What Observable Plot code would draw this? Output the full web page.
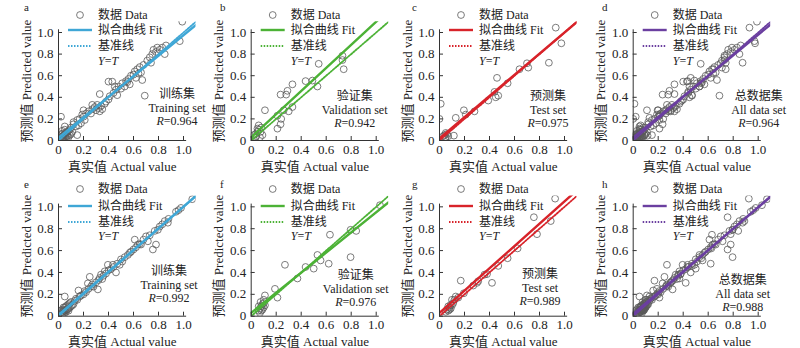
<!DOCTYPE html>
<html><head><meta charset="utf-8">
<script src="https://cdn.jsdelivr.net/npm/d3@7"></script>
<script src="https://cdn.jsdelivr.net/npm/@observablehq/plot@0.6"></script>
<style>
body{margin:0;background:#fff;}
#chart{position:relative;width:800px;height:348px;overflow:hidden;background:#fff;}
#chart svg{position:absolute;overflow:visible !important;background:transparent !important;}
</style></head><body><div id="chart"></div>
<script>
// ---------- DATA (actual, predicted) ----------
const trainA = [[0.02,0.01],[0.03,0.02],[0.04,0.01],[0.05,0.03],[0.03,0.04],[0.06,0.02],[0.04,0.05],[0.07,0.04],[0.02,0.03],[0.05,0.06],[0.08,0.03],[0.06,0.07],[0.03,0.06],[0.09,0.05],[0.07,0.08],[0.04,0.03],[0.1,0.06],[0.08,0.09],[0.05,0.1],[0.03,0.09],[0.11,0.08],[0.06,0.04],[0.09,0.1],[0.02,0.06],[0.1,0.12],
  [0.02,0.22],[0.15,0.05],[0.05,0.13],[0.12,0.15],[0.12,0.17],[0.14,0.13],[0.15,0.19],[0.17,0.2],[0.18,0.16],[0.2,0.22],[0.21,0.19],[0.22,0.25],[0.24,0.27],[0.19,0.24],[0.16,0.14],[0.2,0.28],[0.26,0.25],[0.27,0.29],[0.27,0.33],[0.29,0.31],[0.3,0.28],[0.31,0.33],[0.32,0.3],[0.33,0.27],[0.34,0.32],[0.35,0.29],[0.33,0.43],[0.37,0.34],[0.38,0.36],[0.4,0.38],[0.41,0.41],[0.4,0.545],[0.43,0.545],[0.44,0.44],[0.45,0.5],[0.46,0.47],[0.47,0.42],[0.48,0.5],[0.5,0.48],[0.51,0.53],[0.53,0.5],[0.54,0.55],[0.55,0.54],[0.56,0.57],[0.57,0.52],[0.58,0.6],[0.6,0.61],[0.61,0.64],[0.62,0.58],[0.63,0.66],[0.64,0.62],[0.65,0.68],[0.66,0.63],[0.67,0.56],[0.68,0.7],[0.69,0.415],[0.71,0.74],[0.73,0.77],[0.74,0.72],[0.75,0.8],[0.76,0.84],[0.78,0.82],[0.79,0.86],[0.81,0.84],[0.83,0.86],[0.85,0.8],[0.86,0.88],[0.97,0.92],[0.99,1.1]];
const validB = [[0.035,0.06],[0.05,0.11],[0.06,0.14],[0.075,0.08],[0.035,0.03],[0.02,0.05],[0.09,0.05],[0.05,0.08],[0.07,0.03],[0.04,0.04],[0.06,0.1],[0.08,0.12],[0.11,0.28],[0.21,0.11],[0.21,0.23],[0.235,0.15],[0.24,0.2],[0.235,0.425],[0.26,0.28],[0.28,0.425],[0.29,0.46],[0.30,0.27],[0.33,0.31],[0.33,0.52],[0.435,0.55],[0.49,0.555],[0.53,0.5],[0.54,0.71],[0.73,0.785],[0.73,0.745],[0.74,0.66]];
const testC = [[0.0,0.2],[0.01,0.34],[0.04,0.05],[0.05,0.03],[0.06,0.06],[0.045,0.02],[0.07,0.04],[0.05,0.07],[0.03,0.04],[0.115,0.045],[0.13,0.21],[0.195,0.28],[0.21,0.24],[0.28,0.27],[0.39,0.37],[0.44,0.45],[0.45,0.4],[0.46,0.58],[0.47,0.415],[0.545,0.53],[0.64,0.66],[0.70,0.715],[0.71,0.675],[0.875,0.72],[0.93,1.045],[0.975,0.9]];
const trainE = [[0.02,0.02],[0.03,0.04],[0.04,0.03],[0.05,0.05],[0.06,0.04],[0.03,0.06],[0.07,0.06],[0.05,0.08],[0.08,0.07],[0.04,0.05],[0.06,0.09],[0.09,0.08],[0.07,0.1],[0.1,0.09],[0.08,0.11],[0.02,0.05],[0.11,0.1],[0.05,0.03],[0.09,0.12],[0.12,0.11],[0.06,0.06],[0.04,0.08],[0.1,0.13],[0.03,0.02],[0.08,0.05],
  [0.05,0.18],[0.13,0.14],[0.14,0.16],[0.15,0.15],[0.16,0.235],[0.17,0.18],[0.18,0.19],[0.2,0.2],[0.21,0.23],[0.22,0.22],[0.235,0.3],[0.25,0.36],[0.24,0.25],[0.26,0.27],[0.27,0.29],[0.28,0.27],[0.3,0.31],[0.315,0.245],[0.32,0.33],[0.33,0.35],[0.34,0.38],[0.35,0.34],[0.36,0.37],[0.37,0.41],[0.38,0.39],[0.395,0.47],[0.4,0.42],[0.42,0.43],[0.435,0.47],[0.44,0.45],[0.46,0.4],[0.47,0.48],[0.49,0.47],[0.5,0.52],[0.51,0.5],[0.53,0.54],[0.555,0.56],[0.57,0.58],[0.58,0.59],[0.6,0.61],[0.61,0.7],[0.62,0.63],[0.635,0.655],[0.65,0.66],[0.66,0.655],[0.68,0.7],[0.7,0.73],[0.715,0.685],[0.73,0.74],[0.755,0.61],[0.77,0.78],[0.78,0.655],[0.795,0.79],[0.81,0.82],[0.83,0.84],[0.85,0.87],[0.875,0.855],[0.88,0.89],[0.94,0.955],[0.96,0.97],[0.98,0.99],[1.07,1.07]];
const validF = [[0.06,0.05],[0.07,0.07],[0.08,0.09],[0.09,0.11],[0.1,0.12],[0.08,0.05],[0.1,0.08],[0.075,0.13],[0.09,0.06],[0.11,0.1],[0.07,0.03],[0.06,0.09],[0.1,0.15],[0.11,0.19],[0.19,0.25],[0.21,0.17],[0.27,0.47],[0.37,0.345],[0.435,0.45],[0.50,0.435],[0.53,0.56],[0.555,0.51],[0.62,0.48],[0.63,0.745],[0.795,0.54],[0.795,0.79],[0.84,0.78],[1.03,1.015]];
const testG = [[0.05,0.04],[0.06,0.06],[0.07,0.05],[0.08,0.08],[0.09,0.07],[0.07,0.09],[0.1,0.1],[0.11,0.12],[0.12,0.15],[0.09,0.105],[0.1,0.15],[0.13,0.18],[0.15,0.17],[0.08,0.06],[0.17,0.325],[0.195,0.21],[0.27,0.28],[0.30,0.305],[0.31,0.32],[0.36,0.38],[0.38,0.385],[0.42,0.305],[0.47,0.46],[0.545,0.53],[0.625,0.62],[0.755,0.905],[0.78,0.75],[0.89,0.87],[0.925,1.075]];
const allD = trainA.concat(validB, testC);
const allH = trainE.concat(validF, testG);

const panelLetters = ["a","b","c","d","e","f","g","h"];
const setNamesZh = ["训练集","验证集","预测集","总数据集","训练集","验证集","预测集","总数据集"];
const setNamesEn = ["Training set","Validation set","Test set","All data set","Training set","Validation set","Test set","All data set"];
const rValues = ["0.964","0.942","0.975","0.964","0.992","0.976","0.989","0.988"];
const fitSlope = [0.95, 1.07, 0.98, 0.955, 0.99, 0.92, 1.02, 0.975];
const fitIntercept = [0.025, 0.03, 0.02, 0.025, 0.012, 0.03, 0.03, 0.02];
const tickValues = [0, 0.2, 0.4, 0.6, 0.8, 1.0];
const xLabel = "真实值 Actual value";
const yLabel = "预测值 Predicted value";
const legendLabels = ["数据 Data", "拟合曲线 Fit", "基准线"];
const panelData = [trainA, validB, testC, allD, trainE, validF, testG, allH];

// ---------- LAYOUT / STYLE ----------
const FONT = '"Liberation Serif","Times New Roman","Noto Sans CJK SC",serif';
const colors = ["#3fa7d6", "#4cb236", "#d8232a", "#6b3fa0"];
const colAxis = [58, 50.7, 39, 32.7];
const rowMT = [21.2, 21.4], rowMB = [34, 32.3];
const xLabelDy = [30.5, 29.5];
const letterX = [27, 23, 15, 5], letterY = [7, 10];
const annX = [119, 104, 109, 126, 111, 105, 101, 110];
const annY = [94, 96, 96, 96, 97, 101, 100, 106];   // first line centre; lines 13.5px apart
const legY = [[15,30,46,61],[15,32,48,62]];
const W = 200, H = 174, PW = 137.5;
const fmt = d => d === 0 ? "0" : d3.format(".1f")(d);

const chart = document.getElementById("chart");
for (let i = 0; i < 8; i++) {
  const col = i % 4, row = Math.floor(i / 4);
  const ml = colAxis[col], mr = W - ml - PW, mt = rowMT[row], mb = rowMB[row];
  const PH = H - mt - mb;
  const color = colors[col];
  const fit = [0, 1.1].map(x => ({x, y: fitIntercept[i] + fitSlope[i] * x}));
  const ref = [0, 1.1].map(x => ({x, y: x}));
  const svg = Plot.plot({
    width: W, height: H, marginLeft: ml, marginRight: mr, marginTop: mt, marginBottom: mb,
    x: {domain: [0, 1.1]}, y: {domain: [0, 1.1]},
    style: {fontFamily: FONT, fontSize: "13px", color: "#222", background: "transparent", overflow: "visible"},
    marks: [
      Plot.dot(panelData[i], {x: d => d[0], y: d => d[1], r: 3.4, stroke: "#5a5a5a", strokeWidth: 0.8, fill: "none", clip: true}),
      Plot.line(fit, {x: "x", y: "y", stroke: color, strokeWidth: 2.4, clip: true}),
      Plot.line(ref, {x: "x", y: "y", stroke: color, strokeWidth: 1.8, strokeDasharray: "1.5,1.5", clip: true}),
      Plot.ruleX([0], {y1: 0, y2: 1.025, stroke: "#333"}),
      Plot.ruleY([0], {x1: 0, x2: 1.025, stroke: "#333"}),
      Plot.tickY(tickValues, {y: d => d, insetRight: PW - 4, stroke: "#333"}),
      Plot.tickX(tickValues, {x: d => d, insetTop: PH - 4, stroke: "#333"}),
      Plot.axisY(tickValues, {tickSize: 0, tickPadding: 5, tickFormat: fmt, fontSize: 13, label: null}),
      Plot.axisX(tickValues, {tickSize: 0, tickPadding: 4, tickFormat: fmt, fontSize: 13, label: null}),
      Plot.text([xLabel], {frameAnchor: "bottom", dy: xLabelDy[row], dx: -5, text: d => d, fontSize: 13, fill: "#222"}),
      Plot.text([yLabel], {frameAnchor: "left", rotate: -90, dx: -32, textAnchor: "middle", text: d => d, fontSize: 13, fill: "#222"})
    ]
  });
  svg.style.left = (col * 200) + "px";
  svg.style.top = (row * 174) + "px";
  chart.appendChild(svg);

  const g = d3.select(svg).append("g").attr("font-family", FONT).attr("font-size", 12).attr("fill", "#222").attr("text-anchor", "start");
  const ly = legY[row];
  g.append("circle").attr("cx", ml + 22).attr("cy", ly[0]).attr("r", 3.4).attr("fill", "none").attr("stroke", "#5a5a5a").attr("stroke-width", 0.8);
  g.append("line").attr("x1", ml + 10).attr("x2", ml + 34).attr("y1", ly[1]).attr("y2", ly[1]).attr("stroke", color).attr("stroke-width", 2.4);
  g.append("line").attr("x1", ml + 10).attr("x2", ml + 34).attr("y1", ly[2]).attr("y2", ly[2]).attr("stroke", color).attr("stroke-width", 1.8).attr("stroke-dasharray", "1.5,1.5");
  legendLabels.forEach((t, k) => g.append("text").attr("text-anchor", "start").attr("x", ml + 40).attr("y", ly[k]).attr("dy", "0.35em").text(t));
  const yt = g.append("text").attr("text-anchor", "start").attr("x", ml + 40).attr("y", ly[3]).attr("dy", "0.35em");
  yt.append("tspan").attr("font-style", "italic").text("Y");
  yt.append("tspan").text("=");
  yt.append("tspan").attr("font-style", "italic").text("T");

  g.append("text").attr("text-anchor", "start").attr("x", letterX[col] - 3).attr("y", letterY[row]).attr("dy", "0.35em").attr("font-size", 11).text(panelLetters[i]);

  const ax = ml + annX[i], ay = annY[i];
  g.append("text").attr("x", ax).attr("y", ay).attr("dy", "0.35em").attr("text-anchor", "middle").text(setNamesZh[i]);
  g.append("text").attr("x", ax).attr("y", ay + 13.5).attr("dy", "0.35em").attr("text-anchor", "middle").text(setNamesEn[i]);
  const rt = g.append("text").attr("x", ax).attr("y", ay + 27).attr("dy", "0.35em").attr("text-anchor", "middle");
  rt.append("tspan").attr("font-style", "italic").text("R");
  rt.append("tspan").text("=" + rValues[i]);
}
</script></body></html>
